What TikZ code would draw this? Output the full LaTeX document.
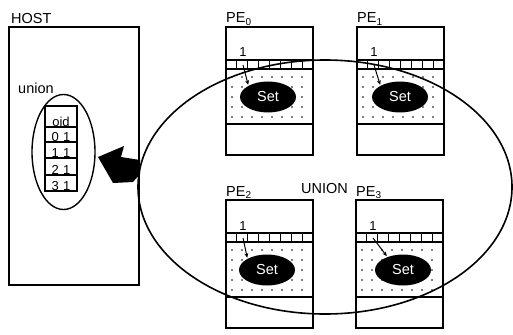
\documentclass[tikz,border=0pt]{standalone}
\usepackage{fontspec}
\setmainfont{Liberation Sans}
\usetikzlibrary{shapes.geometric,arrows.meta}

% one processing element: frame, header, 8-cell row, dotted store, black "Set"
% #1,#2 top-left corner, #3 name, #4 subscript, #5 set x-offset, #6 pointer angle
\newcommand\peunit[6]{%
  \begin{scope}[shift={(#1,#2)}]
    \foreach \cx in {6,16,...,76}
      \foreach \cy in {50,60,...,90}
        \fill (\cx,\cy) circle[radius=0.85pt];
    \draw[frame] (0,0) rectangle (87,128);
    \draw[frame] (0,33) -- (87,33) (0,42) -- (87,42) (0,97) -- (87,97);
    \foreach \i in {1,...,7}
      \draw[cellline] ({\i*87/8},33) -- ({\i*87/8},42);
    \node[lbl,anchor=base west] (#3lbl) at (0,-4)
      {PE\raisebox{-2.5pt}{\fontsize{10}{10}\selectfont #4}};
    \node[onelbl,anchor=base] (#3one) at (17,30) {1};
    \coordinate (#3cell) at (17,38);
    \node[setnode] (#3set) at (#5,70) {Set};
    \draw[ptr] (#3cell) -- (#3set.#6);
  \end{scope}}

\begin{document}
\begin{tikzpicture}[x=1pt,y=-1pt,
  frame/.style={draw,line width=1.4pt},
  cellline/.style={line width=1.2pt},
  lbl/.style={inner sep=0pt,font=\fontsize{14.5}{16}\selectfont},
  onelbl/.style={inner sep=0pt,font=\fontsize{13}{15}\selectfont},
  tbl/.style={inner sep=0pt,font=\fontsize{13}{15}\selectfont},
  setnode/.style={ellipse,fill=black,text=white,minimum width=56pt,
    minimum height=31pt,inner sep=0pt,font=\fontsize{14.5}{16}\selectfont},
  ptr/.style={line width=1pt,shorten >=1pt,-{Stealth[length=4.5pt,width=4pt]}},
]
\useasboundingbox (0,0) rectangle (513,334);

% host side
\node[lbl,anchor=base west] (host) at (11,24) {HOST};
\draw[frame] (9,27) rectangle (139,285);
\node[lbl,anchor=base west] (unionlbl) at (18,93) {union};
\node[draw,ellipse,line width=1.4pt,minimum width=63pt,minimum height=115pt,
  inner sep=0pt] (hostset) at (63.5,152) {};
\draw[line width=1.3pt] (45,106) rectangle (77,191);
\foreach \y in {127,142,158,175} \draw[line width=1.3pt] (45,\y) -- (77,\y);
\node[tbl,anchor=base] (t0) at (61,126) {oid};
\node[tbl,anchor=base] (t1) at (61,141) {0\,\,1};
\node[tbl,anchor=base] (t2) at (61,157) {1\,\,1};
\node[tbl,anchor=base] (t3) at (61,174) {2\,\,1};
\node[tbl,anchor=base] (t4) at (61,190) {3\,\,1};

% processing elements
\peunit{226}{27}{pea}{0}{42}{150}
\peunit{357}{27}{peb}{1}{43}{150}
\peunit{226}{200}{pec}{2}{41}{150}
\peunit{356}{200}{ped}{3}{47}{140}

% union of all sets
\node[lbl,anchor=base west] (unionall) at (301,193) {UNION};
\draw[line width=1.6pt] (325,187) ellipse [x radius=187pt, y radius=127pt];

% result returned to the host
\fill (98,157) -- (124,146) -- (121,157) -- (140,160) -- (140,174)
  -- (133,182) -- (113,183) -- cycle;
\end{tikzpicture}
\end{document}
